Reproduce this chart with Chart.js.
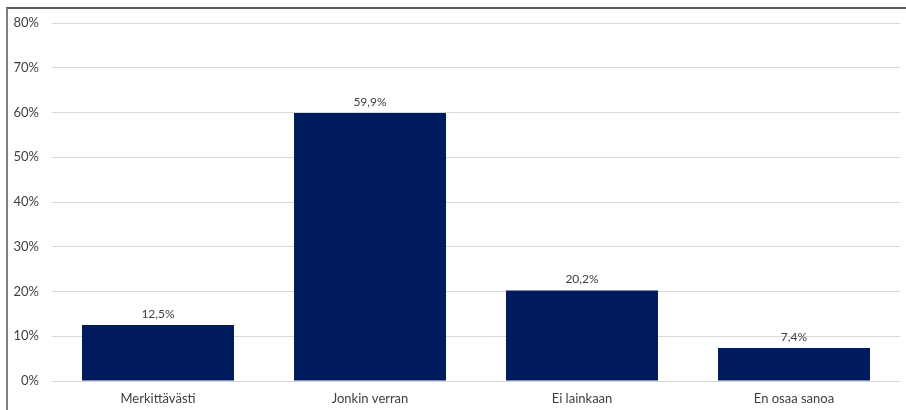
<!DOCTYPE html>
<html lang="fi">
<head>
    <meta charset="UTF-8">
    <title>Pylväskaavio</title>
    <style>
        body, html {
            margin: 0;
            padding: 0;
            background: #fff;
        }
        #wrap {
            position: relative;
            width: 906px;
            height: 410px;
        }
        /* kehys vasemmalla ja ylhäällä */
        #frame {
            position: absolute;
            left: 6px;
            top: 7px;
            right: 0;
            bottom: 0;
            border-left: 2px solid #808080;
            border-top: 2px solid #5a5a5a;
            pointer-events: none;
        }
        canvas {
            position: absolute;
            left: 0;
            top: 0;
        }
    </style>
</head>
<body>
<div id="wrap">
    <canvas id="myChart" width="906" height="410"></canvas>
    <div id="frame"></div>
</div>

<script src="https://cdn.jsdelivr.net/npm/chart.js"></script>
<script>
    var categories = ['Merkittävästi', 'Jonkin verran', 'Ei lainkaan', 'En osaa sanoa'];
    var values = [12.5, 59.9, 20.2, 7.4];
    var yTicks = [0, 10, 20, 30, 40, 50, 60, 70, 80];

    var textColor = '#404040';
    var fontFamily = 'Lato, "Open Sans", sans-serif';

    function fmt(v, dec) {
        return v.toFixed(dec).replace('.', ',') + '%';
    }

    // arvot pylväiden yläpuolelle
    var barLabels = {
        id: 'barLabels',
        afterDatasetsDraw: function(chart) {
            var ctx = chart.ctx;
            var meta = chart.getDatasetMeta(0);
            ctx.save();
            ctx.font = '12px ' + fontFamily;
            ctx.fillStyle = textColor;
            ctx.textAlign = 'center';
            ctx.textBaseline = 'bottom';
            meta.data.forEach(function(bar, i) {
                ctx.fillText(fmt(values[i], 1), bar.x, bar.y - 5);
            });
            ctx.restore();
        }
    };

    var ctx = document.getElementById('myChart').getContext('2d');
    new Chart(ctx, {
        type: 'bar',
        data: {
            labels: categories,
            datasets: [{
                data: values,
                backgroundColor: '#001b5e',
                borderWidth: 0,
                categoryPercentage: 1,
                barPercentage: 0.717
            }]
        },
        options: {
            responsive: false,
            animation: false,
            layout: {
                padding: { left: 7, top: 23, right: 6, bottom: 0 }
            },
            plugins: {
                legend: { display: false },
                tooltip: { enabled: false }
            },
            scales: {
                x: {
                    grid: { display: false, drawTicks: false },
                    border: { display: false },
                    ticks: {
                        color: textColor,
                        font: { family: fontFamily, size: 13 },
                        padding: 10
                    },
                    afterFit: function(s) { s.height = 29; }
                },
                y: {
                    min: 0,
                    max: 80,
                    afterBuildTicks: function(s) {
                        s.ticks = yTicks.map(function(v) { return { value: v }; });
                    },
                    grid: { color: '#d9d9d9', lineWidth: 1, drawTicks: false },
                    border: { display: false },
                    ticks: {
                        color: textColor,
                        font: { family: fontFamily, size: 13 },
                        padding: 13,
                        callback: function(v) { return v + '%'; }
                    },
                    afterFit: function(s) { s.width = 45; }
                }
            }
        },
        plugins: [barLabels]
    });
</script>
</body>
</html>
